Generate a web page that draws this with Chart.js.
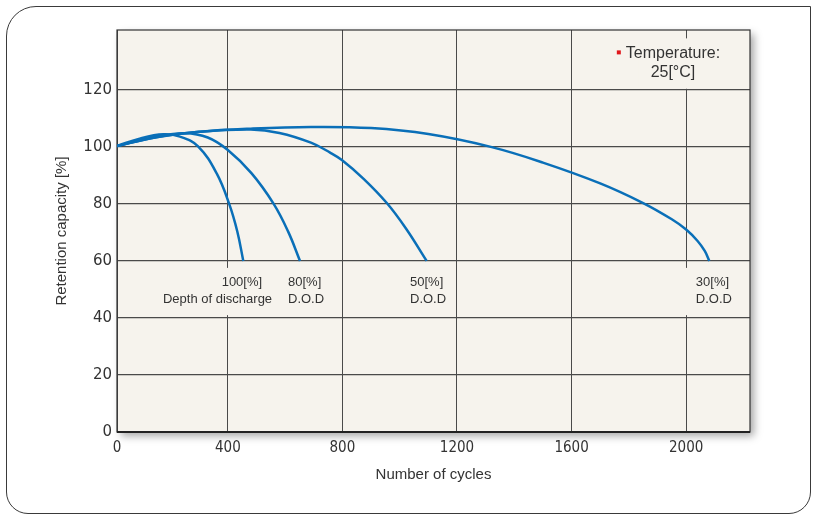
<!DOCTYPE html>
<html>
<head>
<meta charset="utf-8">
<script src="https://cdn.jsdelivr.net/npm/chart.js@4"></script>
<style>
html,body{margin:0;padding:0;background:#fff;}
#wrap{position:relative;width:818px;height:517px;overflow:hidden;}
#frame{position:absolute;left:6px;top:6px;width:803px;height:506px;border:1.5px solid #3a3a3a;border-radius:30px 0 22px 22px;}
#chart{position:absolute;left:0;top:0;}
</style>
</head>
<body>
<div id="wrap">
<div id="frame"></div>
<canvas id="chart" width="818" height="517"></canvas>
</div>
<script>
// axis ranges (left edge sits a little right of the 0 gridline spacing)
var X_MIN = 13, X_MAX = 2223;
var Y_MIN = 0, Y_MAX = 141;
var xTickLabels = [0, 400, 800, 1200, 1600, 2000];
var yTickLabels = [0, 20, 40, 60, 80, 100, 120];

// cycles / retention capacity [%] for each depth of discharge
var dod100Cycles = [13, 95, 175, 233, 296, 361, 405, 433, 454];
var dod100Ret    = [100.3, 103, 104.4, 103.6, 100.2, 90.7, 79.9, 70.3, 60];

var dod80Cycles = [13, 150, 250, 330, 400, 483, 560, 611, 652];
var dod80Ret    = [100.3, 103.6, 104.8, 103.3, 98.9, 90.7, 80, 70.2, 60];

var dod50Cycles = [13, 150, 300, 480, 580, 690, 757, 798, 874, 955, 1023, 1094];
var dod50Ret    = [100.3, 103.4, 105.3, 106.1, 104.9, 101.5, 98, 95.4, 88.8, 80.3, 71.2, 60];

var dod30Cycles = [13, 150, 300, 480, 690, 900, 1100, 1318, 1500, 1700, 1850, 1950, 2000, 2040, 2065, 2081];
var dod30Ret    = [100.3, 103.4, 105.3, 106.4, 107, 106.6, 104.5, 100, 94.5, 87.2, 80.3, 74.6, 71, 67, 63.5, 60];

// text notes inside the plot (data coords)
var notes = [
  {text:"100[%]", x:449, y:52.3, align:"center"},
  {text:"Depth of discharge", x:364, y:46.6, align:"center"},
  {text:"80[%]", x:610, y:52.3, align:"left"},
  {text:"D.O.D", x:610, y:46.6, align:"left"},
  {text:"50[%]", x:1036, y:52.3, align:"left"},
  {text:"D.O.D", x:1036, y:46.6, align:"left"},
  {text:"30[%]", x:2034, y:52.3, align:"left"},
  {text:"D.O.D", x:2034, y:46.6, align:"left"}
];
var tempNotes = [
  {text:"Temperature:", x:1954, y:132.8},
  {text:"25[\u00b0C]", x:1954, y:126}
];

var PLOT_BG = "#f6f3ed";
var LINE = "#0a6fb8";
var TXT = "#333";
var GRID = "#4a4a4a";

function pts(xs, ys){ return xs.map(function(x,i){ return {x:x, y:ys[i]}; }); }

function series(xs, ys){
  return {data:pts(xs,ys), borderColor:LINE, borderWidth:2.5, pointRadius:0,
          tension:0.4, fill:false};
}

var plotBox = {
  id:"plotBox",
  beforeDraw:function(chart){
    var a = chart.chartArea, ctx = chart.ctx;
    ctx.save();
    ctx.shadowColor = "rgba(0,0,0,0.35)";
    ctx.shadowBlur = 8;
    ctx.shadowOffsetX = 4;
    ctx.shadowOffsetY = 4;
    ctx.fillStyle = PLOT_BG;
    ctx.fillRect(a.left, a.top, a.right-a.left, a.bottom-a.top);
    ctx.restore();
  },
  beforeDatasetsDraw:function(chart){
    var a = chart.chartArea, ctx = chart.ctx;
    var xs = chart.scales.x, ys = chart.scales.y;
    ctx.save();
    // outline
    ctx.strokeStyle = "#333";
    ctx.lineWidth = 1.2;
    ctx.strokeRect(a.left, a.top, a.right-a.left, a.bottom-a.top);
    ctx.lineWidth = 2;
    ctx.strokeStyle = "#222";
    ctx.beginPath(); ctx.moveTo(a.left, a.bottom); ctx.lineTo(a.right, a.bottom); ctx.stroke();

    // DOD labels, with a plain box behind them that hides the grid
    ctx.font = "13px 'Liberation Sans', Arial, sans-serif";
    ctx.textBaseline = "middle";
    notes.forEach(function(n){
      var px = xs.getPixelForValue(n.x), py = ys.getPixelForValue(n.y);
      var w = ctx.measureText(n.text).width;
      var left = n.align === "center" ? px - w/2 : px;
      ctx.fillStyle = PLOT_BG;
      ctx.fillRect(left-12, py-15, w+17, 31);
    });
    notes.forEach(function(n){
      var px = xs.getPixelForValue(n.x), py = ys.getPixelForValue(n.y);
      ctx.fillStyle = TXT;
      ctx.textAlign = n.align;
      ctx.fillText(n.text, px, py);
    });

    // temperature note
    ctx.font = "16px 'Liberation Sans', Arial, sans-serif";
    ctx.textAlign = "center";
    tempNotes.forEach(function(n){
      var px = xs.getPixelForValue(n.x), py = ys.getPixelForValue(n.y);
      var w = ctx.measureText(n.text).width;
      ctx.fillStyle = PLOT_BG;
      ctx.fillRect(px-w/2-12, py-15, w+24, 31);
    });
    tempNotes.forEach(function(n, i){
      var px = xs.getPixelForValue(n.x), py = ys.getPixelForValue(n.y);
      ctx.fillStyle = TXT;
      ctx.fillText(n.text, px, py);
      if(i === 0){
        var w = ctx.measureText(n.text).width;
        ctx.fillStyle = "#e0161b";
        ctx.fillRect(px - w/2 - 9, py - 3, 4, 4);
      }
    });
    ctx.restore();
  }
};

new Chart(document.getElementById("chart"), {
  type:"line",
  data:{
    datasets:[
      series(dod100Cycles, dod100Ret),
      series(dod80Cycles, dod80Ret),
      series(dod50Cycles, dod50Ret),
      series(dod30Cycles, dod30Ret)
    ]
  },
  options:{
    responsive:false,
    animation:false,
    layout:{padding:{left:0, top:30, right:68, bottom:0}},
    plugins:{legend:{display:false}, tooltip:{enabled:false}},
    scales:{
      x:{
        type:"linear", min:X_MIN, max:X_MAX,
        afterBuildTicks:function(s){ s.ticks = xTickLabels.map(function(v){ return {value:Math.max(v, X_MIN)}; }); },
        afterFit:function(s){ s.height = 85; },
        grid:{color:GRID, lineWidth:1, drawTicks:false},
        border:{display:false},
        ticks:{padding:7, color:TXT, font:{family:"'DejaVu Sans Condensed', sans-serif", size:15},
               callback:function(v, i){ return String(xTickLabels[i]); }},
        title:{display:true, text:"Number of cycles", color:TXT,
               font:{family:"'Liberation Sans', Arial, sans-serif", size:15}, padding:{top:0, bottom:33}}
      },
      y:{
        min:Y_MIN, max:Y_MAX,
        afterBuildTicks:function(s){ s.ticks = yTickLabels.map(function(v){ return {value:v}; }); },
        afterFit:function(s){ s.width = 117; },
        grid:{color:GRID, lineWidth:1.2, drawTicks:false},
        border:{display:false},
        ticks:{padding:5, color:TXT, font:{family:"'DejaVu Sans', Verdana, sans-serif", size:15}},
        title:{display:true, text:"Retention capacity [%]", color:TXT,
               font:{family:"'Liberation Sans', Arial, sans-serif", size:15}, padding:{top:53, bottom:0}}
      }
    }
  },
  plugins:[plotBox]
});
</script>
</body>
</html>
